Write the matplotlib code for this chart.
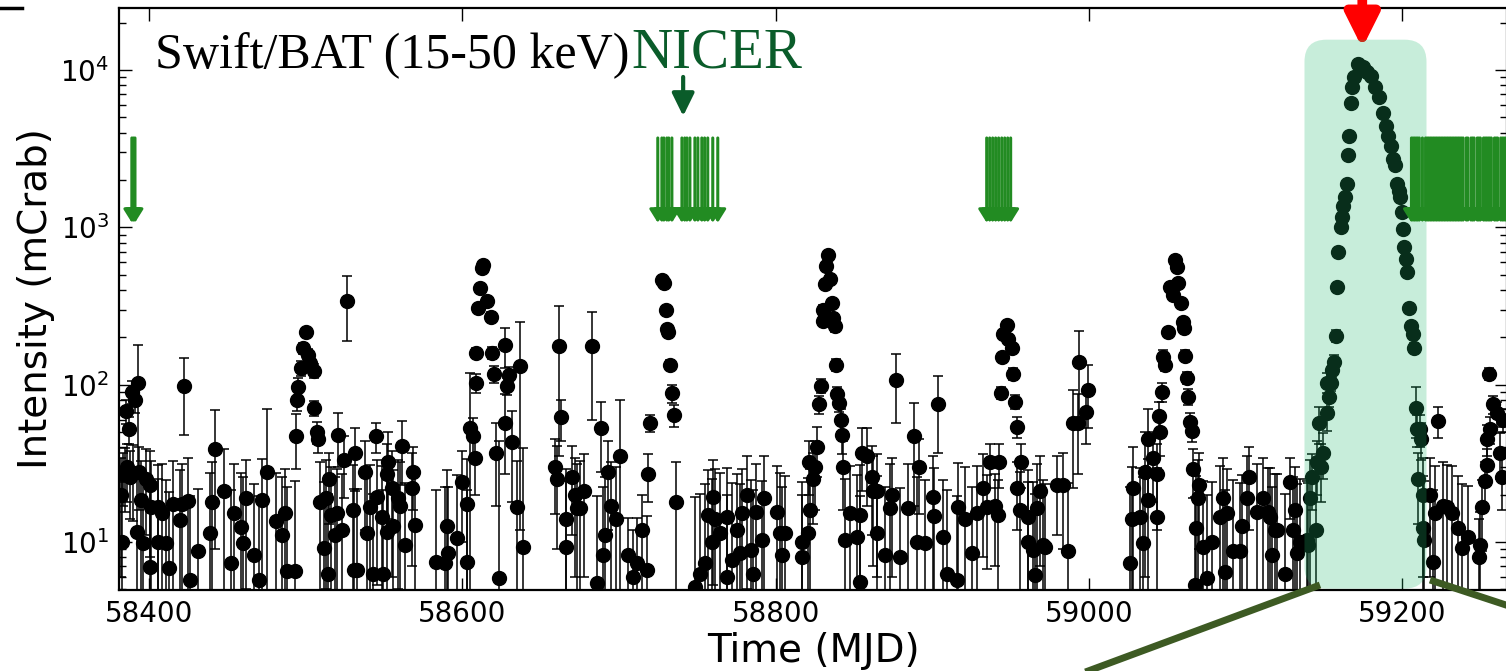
import numpy as np
import matplotlib
matplotlib.use('Agg')
import matplotlib.pyplot as plt
from matplotlib.patches import FancyBboxPatch
from matplotlib.lines import Line2D
from matplotlib.transforms import IdentityTransform

# Swift/BAT 15-50 keV daily light curve: (MJD, mCrab, error)
bat_2018 = [
    (58382, 20, 14), (58383, 10, 14), (58383.5, 27, 10), (58384.5, 27.5, 12), (58385, 68, 12),
    (58386, 30, 12), (58387, 52, 10), (58388, 26, 12), (58389, 90, 15), (58390, 27.5, 14),
    (58391, 80, 14), (58392, 11.6, 15), (58393, 103, 77), (58393.5, 28, 12), (58395, 18.5, 14),
    (58396, 9.8, 16), (58398, 25, 14), (58400.5, 23, 15), (58400.5, 6.9, 15), (58401, 16.7, 16),
    (58406, 16.7, 14), (58406, 10, 15), (58408, 15.3, 16), (58411, 9.8, 15), (58413, 6.8, 14),
    (58415, 17.5, 15), (58420, 13.8, 15), (58421, 17.5, 14), (58422, 98, 50), (58425, 18.3, 16),
    (58426, 5.7, 14), (58431, 8.7, 13), (58439, 11.4, 16), (58440, 18, 14), (58442, 39, 30),
    (58448, 21, 18), (58452, 7.3, 14), (58454, 15.3, 16), (58459, 12.5, 15), (58460, 9.8, 16),
    (58462, 19, 14), (58467, 8.3, 15), (58470, 5.7, 14), (58472, 18.5, 15), (58475, 28, 42),
    (58481, 13.5, 14), (58485, 11, 15), (58487, 15.3, 14), (58488, 6.5, 16), (58493, 6.5, 18),
    (58494, 47, 18), (58494.5, 80, 12), (58495, 97, 14), (58497, 128, 14), (58498.3, 170, 14),
    (58500.3, 215, 14), (58501.5, 155, 14), (58503, 138, 14), (58505, 123, 12), (58505.5, 71, 8),
    (58507, 50, 8), (58508, 45, 8), (58509, 18, 14), (58512, 9.2, 15), (58513, 19, 14),
    (58514, 6.3, 14), (58515, 25, 12), (58516, 14.8, 15), (58519, 11, 15), (58520, 15.2, 14),
    (58520.7, 48, 18), (58523, 12, 15), (58524.5, 33, 14), (58526.4, 340, 150), (58530, 16, 15),
    (58531, 6.6, 15), (58531.5, 37, 16),
]
bat_2019a = [
    (58533, 6.6, 15), (58538, 28, 16), (58539, 11.4, 15), (58541, 16.7, 14), (58543, 6.3, 14),
    (58545, 47, 10), (58545.6, 19.3, 14), (58549, 14.4, 16), (58549.4, 6.3, 15), (58552, 27, 15),
    (58552, 11.6, 14), (58552.6, 32, 18), (58555, 22, 16), (58556, 12.6, 16), (58559, 19, 14),
    (58560, 17, 15), (58561.5, 41, 18), (58563.5, 9.6, 14), (58568, 22, 15), (58568.6, 28, 12),
    (58570, 12.8, 15), (58583, 7.5, 14), (58589, 7.3, 15), (58590, 12.6, 16), (58591, 8.5, 14),
    (58596.7, 10.6, 16), (58600, 24, 14), (58603, 7.5, 14), (58603, 17.5, 16), (58605, 53, 65),
    (58607, 47, 14), (58608, 34, 14), (58608.5, 103, 14), (58609, 160, 12), (58610, 305, 15),
    (58611, 410, 20), (58612.6, 550, 25), (58613, 580, 25), (58616, 340, 20), (58618, 270, 20),
    (58619, 160, 14), (58620, 117, 15), (58621.6, 37, 20), (58623.5, 5.9, 38), (58627, 57, 30),
    (58627.3, 178, 50), (58628.6, 98, 12), (58630, 115, 14), (58632, 43, 25), (58635, 16.7, 16),
    (58637, 132, 120), (58639, 9.3, 30),
]
bat_2019b = [
    (58659, 30, 15), (58660.5, 25, 16), (58662, 175, 140), (58663, 62, 18), (58666.5, 14, 15),
    (58666.5, 9.3, 15), (58670, 26, 15), (58672, 20, 14), (58673, 16.5, 15), (58675, 16.5, 16),
    (58678, 21, 15), (58683, 175, 115), (58686, 5.5, 14), (58688.6, 53, 25), (58690, 8.3, 14),
    (58691, 11, 15), (58693, 28, 16), (58695, 17, 15), (58698, 14, 16), (58700.8, 35, 45),
    (58706, 8.3, 6), (58709, 6, 6), (58711.6, 7.3, 7), (58715, 12, 8), (58718, 6.6, 8),
    (58718.6, 27, 9), (58720, 57, 7), (58727.6, 465, 20), (58729, 440, 20), (58730, 300, 15),
    (58731, 225, 12), (58731.4, 215, 12), (58732.7, 134, 10), (58734, 88, 12), (58735, 64, 10),
    (58736.5, 18, 14),
]
bat_2019c = [
    (58748.7, 5.2, 14), (58752, 6.3, 14), (58755, 7.3, 16), (58757, 14.8, 14), (58759.5, 10, 15),
    (58760, 19.3, 14), (58761.4, 14, 15), (58764.6, 11.4, 16), (58769, 14.5, 15), (58769, 6, 14),
    (58772, 7.7, 16), (58775.5, 12, 15), (58777.4, 8.5, 15), (58778.7, 15.3, 14), (58782, 20, 15),
    (58784, 8.9, 16), (58785.7, 6.3, 15), (58787.6, 15.5, 16), (58791.5, 10.3, 14), (58792.7, 19, 16),
    (58801, 15.5, 15), (58803, 11.4, 16), (58804, 8.3, 14), (58806, 11.4, 15), (58817, 10, 14),
    (58817, 8, 12), (58821, 11.4, 14), (58822, 16, 13), (58821.5, 32, 12), (58824, 25, 12),
    (58825, 30, 14), (58826.6, 40, 14), (58828, 75, 10), (58829, 98, 10), (58830, 255, 20),
    (58830.4, 300, 20), (58831.7, 435, 25), (58832.4, 570, 30), (58833.6, 670, 30), (58834.9, 470, 25),
    (58836, 330, 20), (58836.8, 266, 18), (58838, 235, 18), (58838.7, 134, 12), (58839.3, 87, 10),
    (58840.6, 77, 10), (58842, 60, 10), (58842.5, 48, 12), (58843, 30, 14), (58844.4, 10.3, 15),
    (58847.6, 15.3, 15), (58852, 10.8, 16), (58854, 14.8, 16), (58854, 5.6, 14), (58855, 37, 16),
    (58858.5, 35, 18), (58861.7, 26, 15), (58862, 21, 14), (58865, 21, 15), (58865, 11.4, 15),
    (58870, 8.3, 14),
]
bat_2020a = [
    (58873, 16.5, 15), (58874.5, 20, 14), (58877, 107, 50), (58879.6, 8, 14), (58884.7, 16.5, 15),
    (58888.5, 47, 30), (58890.4, 10, 16), (58891.7, 30, 15), (58895.5, 9.8, 15), (58900.6, 19.3, 16),
    (58901, 14.6, 15), (58904, 75, 38), (58907, 10.8, 14), (58909.6, 6.3, 15), (58916, 5.7, 14),
    (58916.6, 16.7, 15), (58921, 14, 16), (58925.5, 8.5, 14), (58928.7, 15.3, 15), (58932.6, 22, 14),
    (58935, 16.7, 10), (58937, 32, 10), (58940, 17, 10), (58942, 14.8, 10), (58942.8, 32, 10),
    (58944, 89, 8), (58944.7, 150, 10), (58945.3, 210, 12), (58948, 240, 14), (58948.5, 195, 12),
    (58951, 170, 12), (58951.7, 117, 10), (58953, 78, 8), (58954.3, 54, 8), (58954.3, 22, 10),
    (58956, 16, 12), (58956.8, 32, 10), (58961.3, 14.5, 14), (58961.3, 10, 14), (58964.5, 8.9, 15),
    (58965.8, 6.2, 14), (58967, 16.5, 15), (58969, 21, 14), (58971, 9.6, 15), (58972, 9.3, 14),
    (58980, 23, 12), (58983.6, 23, 14), (58986.8, 8.7, 15), (58990, 57, 35), (58993, 57, 30),
    (58994, 140, 80), (58998, 67, 25), (58999.6, 93, 40),
]
bat_2020b = [
    (59026.5, 7.3, 15), (59028, 22, 18), (59027.7, 14, 16), (59032.8, 14.5, 15), (59034.7, 9.8, 16),
    (59036, 28, 22), (59038, 45, 25), (59038, 18.5, 15), (59041, 34, 16), (59043.7, 27, 15),
    (59043.7, 14.5, 15), (59045, 63, 15), (59045.6, 50, 15), (59047, 90, 12), (59047.5, 150, 15),
    (59048.8, 134, 12), (59050.7, 215, 15), (59052, 420, 20), (59054, 370, 20), (59055, 620, 25),
    (59056.5, 560, 25), (59057, 445, 20), (59059, 330, 18), (59060, 250, 15), (59061, 230, 15),
    (59061.6, 153, 12), (59063, 111, 10), (59063.5, 84, 10), (59064.8, 58, 8), (59066, 51, 8),
    (59066.7, 29, 10), (59068, 5.3, 14), (59068.6, 12.3, 14), (59070, 19, 14), (59070.5, 23, 14),
    (59073, 9.3, 15), (59075.6, 5.9, 14), (59078.8, 10, 14), (59084, 14.5, 16), (59085.8, 19, 15),
    (59087, 6.4, 15), (59088.4, 15.3, 14), (59092, 8.7, 16), (59096.7, 8.8, 15), (59098, 12.6, 14),
    (59101, 19, 16), (59102.4, 26, 14), (59107.5, 15.5, 16), (59111.4, 19, 15), (59114.6, 15.5, 14),
    (59116, 14.5, 15), (59117, 8.3, 14), (59119, 12, 15), (59120, 12, 15), (59125.4, 6.3, 14),
    (59128.6, 24, 10), (59130.5, 12, 14), (59131.8, 16, 14), (59133, 8.5, 15), (59135, 10, 15),
]
bat_2020c = [
    (59139.5, 10.3, 14), (59140, 9.6, 14), (59141.4, 19, 14), (59142.7, 26, 10), (59145, 12, 15),
    (59145.8, 32, 12), (59147, 57, 15), (59148.4, 30, 12), (59149.7, 37, 12), (59152, 66, 15),
    (59152.3, 103, 15), (59153.5, 84, 12), (59154.8, 103, 12), (59155.4, 124, 14), (59156.7, 140, 15),
    (59158, 205, 18), (59158.6, 415, 25), (59159.3, 700, 30), (59161, 1000, 30), (59161.8, 1160, 30),
    (59162.1, 1370, 30), (59163.7, 1550, 40), (59165, 1900, 40), (59165.6, 2900, 50), (59166.3, 3800, 60),
    (59167.6, 6200, 80), (59168.2, 7800, 80), (59169.5, 9000, 100), (59172, 10900, 100), (59175.2, 10400, 100),
    (59177.8, 9700, 100), (59180.3, 9100, 100), (59183, 7800, 80), (59185.4, 6700, 80), (59188, 5300, 60),
    (59190, 4400, 60), (59191.2, 3800, 50), (59193, 3300, 50), (59194.4, 2700, 40), (59195.7, 2500, 40),
    (59197, 1900, 40), (59198.2, 1700, 30), (59198.9, 1550, 30), (59200, 1250, 30), (59200.8, 980, 25),
    (59201.4, 750, 25), (59202.6, 630, 20), (59203.3, 520, 20), (59204.6, 305, 18), (59205.8, 235, 15),
    (59207, 210, 15), (59207.8, 172, 12), (59209, 71, 25), (59209.6, 52, 12), (59210.3, 25, 12),
    (59211.5, 52, 12), (59212, 45, 12), (59213.5, 20, 14), (59213.5, 12.3, 14), (59214, 10.3, 14),
]
bat_2021 = [
    (59217.8, 20, 14), (59219.8, 7.5, 14), (59221, 15.3, 15), (59223, 59, 13), (59226, 17, 15),
    (59228.8, 16.7, 14), (59232, 15.3, 15), (59235.8, 12.3, 14), (59238.4, 9.2, 14), (59242.3, 10.8, 12),
    (59249.3, 8, 6), (59250, 9.6, 6), (59251, 16.7, 8), (59253, 24.4, 8), (59254.4, 31, 8),
    (59254.4, 45, 10), (59255.6, 117, 10), (59256.3, 52, 10), (59258.2, 75, 10), (59260.8, 66, 12),
    (59262.7, 37, 12), (59264, 26, 10), (59264.6, 60, 10),
]

# NICER pointings (MJD)
nicer_2018 = [58389, 58390, 58391]
nicer_2019 = [58724.8, 58727.4, 58728.7, 58730.6, 58731.8, 58733.8, 58740.2, 58742, 58743.4,
              58745.3, 58748.5, 58750.4, 58752.9, 58754.7, 58756.7, 58759.9, 58763.1]
nicer_2020a = [58934.8, 58936.7, 58938.6, 58940.5, 58942.4, 58944.4, 58946.3, 58948.2, 58950.1]
nicer_2020b = [59206, 59207, 59208, 59209, 59210, 59211, 59213, 59215, 59216, 59217, 59218,
               59219, 59220, 59221, 59222, 59223, 59224, 59225, 59226, 59227, 59228, 59229,
               59230, 59231, 59232, 59233, 59234, 59235, 59236, 59237, 59238, 59239, 59241,
               59242, 59244, 59245, 59246, 59248, 59249, 59250, 59252, 59253, 59254, 59255,
               59256, 59257, 59259, 59260, 59261, 59263, 59264, 59265, 59266]

xticks = [58400, 58600, 58800, 59000, 59200]
box_mjd = [59137.7, 59215.6]
box_rate = [5.05, 15600]
peak_mjd = 59174.6

W, H = 1506, 671
fig = plt.figure(figsize=(W / 100, H / 100), dpi=100)
ax = fig.add_axes([119 / W, 1 - 590 / H, (1507 - 119) / W, (590 - 8) / H])

rows = bat_2018 + bat_2019a + bat_2019b + bat_2019c + bat_2020a + bat_2020b + bat_2020c + bat_2021
mjd = np.array([r[0] for r in rows])
rate = np.array([r[1] for r in rows])
err = np.array([r[2] for r in rows])

ax.set_yscale('log')
ax.errorbar(mjd, rate, yerr=err, fmt='o', color='k', ms=10, elinewidth=1.1,
            capsize=3.5, capthick=1.1, zorder=3)

ax.set_xlim(58380.8, 59267)
ax.set_ylim(4.95, 24800)
ax.set_xticks(xticks)
ax.set_xticklabels([str(t) for t in xticks])
ax.tick_params(which='both', direction='in', top=True, right=True, labelsize=20, pad=7)
ax.tick_params(which='major', length=9, width=1)
ax.tick_params(which='minor', length=5, width=1)
ax.tick_params(axis='x', which='minor', bottom=False, top=False)
for s in ax.spines.values():
    s.set_linewidth(1.6)

ax.set_xlabel('Time (MJD)', fontsize=28, labelpad=3)
ax.set_ylabel('Intensity (mCrab)', fontsize=28, labelpad=4)

# NICER pointings as green down arrows
for t in nicer_2018 + nicer_2019 + nicer_2020a + nicer_2020b:
    ax.annotate('', xy=(t, 1070), xytext=(t, 3700),
                arrowprops=dict(arrowstyle='-|>,head_length=0.4,head_width=0.25',
                                color='forestgreen', lw=2.2, mutation_scale=20,
                                shrinkA=0, shrinkB=0), zorder=5)

ax.annotate('', xy=(58741, 5100), xytext=(58741, 9040),
            arrowprops=dict(arrowstyle='-|>,head_length=0.55,head_width=0.27',
                            color='#0a5c2a', lw=3, mutation_scale=25,
                            shrinkA=0, shrinkB=0))

ax.annotate('', xy=(peak_mjd, 13800), xytext=(peak_mjd, 45000), annotation_clip=False,
            arrowprops=dict(arrowstyle='-|>,head_length=0.5,head_width=0.25',
                            color='red', lw=7, mutation_scale=40,
                            shrinkA=0, shrinkB=0))

# shaded zoom window over the 2020 outburst
x0, y0 = ax.transData.transform((box_mjd[0], box_rate[0]))
x1, y1 = ax.transData.transform((box_mjd[1], box_rate[1]))
box = FancyBboxPatch((x0, y0), x1 - x0, y1 - y0, boxstyle='round,pad=0,rounding_size=22',
                     transform=IdentityTransform(), facecolor='#23bb6f', alpha=0.25,
                     edgecolor='none', zorder=4)
ax.add_patch(box)

fig.text(155 / W, 1 - 68 / H, 'Swift/BAT (15-50 keV)', family='Liberation Serif',
         fontsize=36, va='baseline')
fig.text(631 / W, 1 - 68 / H, 'NICER', family='Liberation Serif', fontsize=41,
         color='#0a5c2a', va='baseline')

# zoom connector lines toward the panel below
fig.add_artist(Line2D([1320 / W, 1080 / W], [1 - 585 / H, 1 - 674 / H], color='#3d5a23',
                      lw=5, solid_capstyle='butt'))
fig.add_artist(Line2D([1430 / W, 1512 / W], [1 - 580 / H, 1 - 607 / H], color='#3d5a23',
                      lw=5, solid_capstyle='butt'))
fig.add_artist(Line2D([0, 22 / W], [1 - 8 / H, 1 - 8 / H], color='k', lw=2.5))

fig.savefig('out.png', dpi=100)
